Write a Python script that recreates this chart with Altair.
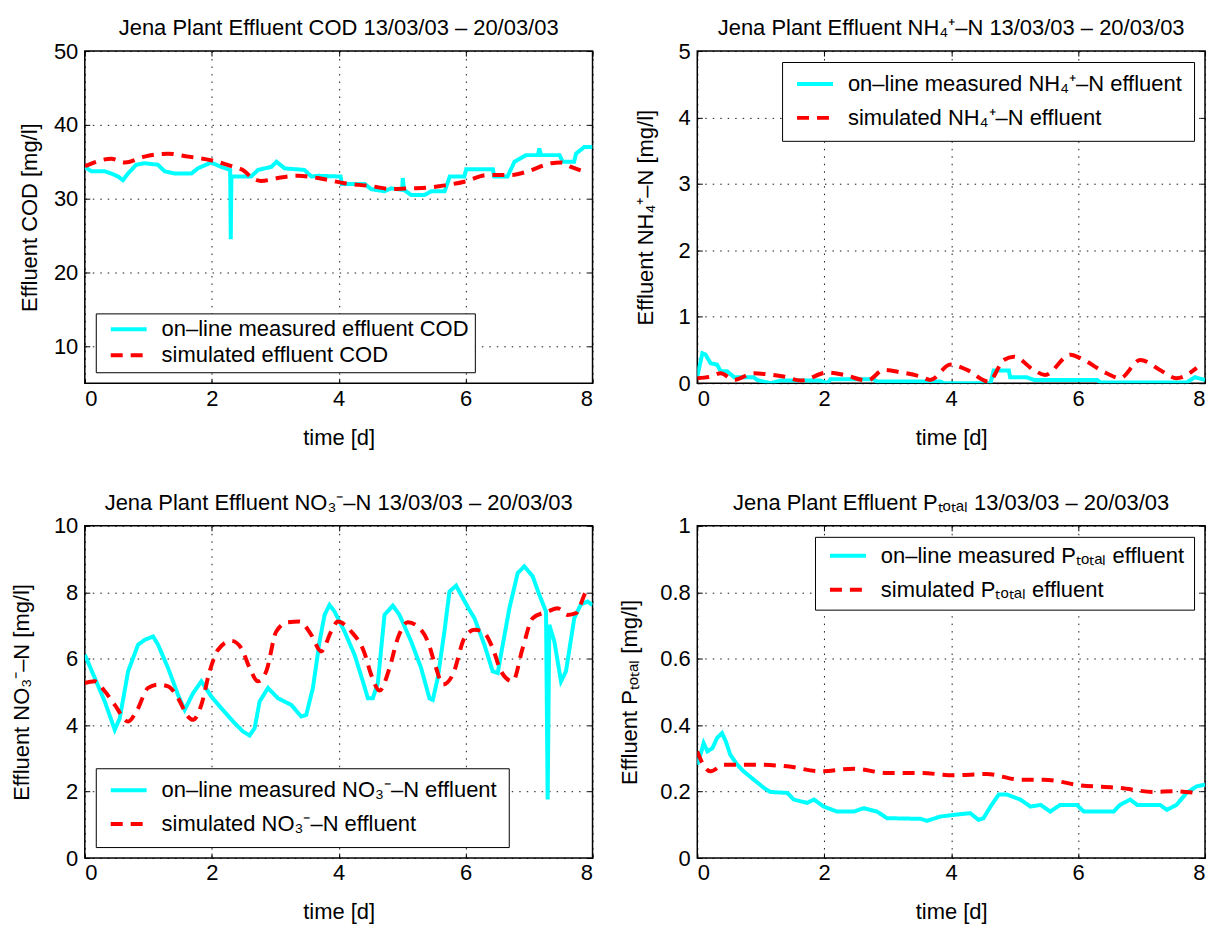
import altair as alt
import pandas as pd

FONT = "Liberation Sans"
FS = 22

# ---------------- COD ----------------
cod_meas_t = [0, 0.105, 0.315, 0.42, 0.525, 0.60, 0.68, 0.81, 0.94, 1.15,
              1.26, 1.42, 1.68, 1.78, 1.99, 2.15, 2.29, 2.30, 2.31, 2.62,
              2.73, 2.94, 3.02, 3.15, 3.46, 3.57, 3.67, 4.03, 4.05, 4.41,
              4.51, 4.72, 4.83, 5.00, 5.01, 5.03, 5.14, 5.35, 5.46, 5.67,
              5.75, 5.98, 6.01, 6.43, 6.45, 6.66, 6.77, 6.95, 7.14, 7.16,
              7.19, 7.48, 7.53, 7.71, 7.74, 7.87, 8.0]
cod_meas_v = [34.3, 33.7, 33.7, 33.4, 33.0, 32.5, 33.4, 34.6, 34.8, 34.6,
              33.7, 33.4, 33.4, 34.1, 34.9, 34.3, 33.9, 24.5, 33.0, 33.0,
              33.9, 34.3, 35.0, 34.1, 33.9, 33.0, 33.1, 33.0, 32.0, 32.0,
              31.3, 31.0, 31.4, 31.2, 32.8, 31.2, 30.5, 30.5, 31.0, 31.0,
              33.0, 33.0, 34.0, 34.0, 33.0, 33.0, 35.0, 35.9, 35.9, 36.8,
              35.9, 35.9, 35.0, 35.0, 36.1, 37.0, 37.0]
cod_sim_t = [0, 0.42, 0.63, 0.94, 1.31, 1.63, 1.99, 2.31, 2.52, 2.62, 2.78,
             3.04, 3.36, 3.67, 4.09, 4.51, 4.83, 5.14, 5.40, 5.67, 5.98, 6.35,
             6.72, 6.98, 7.35, 7.50, 7.66, 7.82]
cod_sim_v = [34.4, 35.4, 34.9, 35.7, 36.1, 35.7, 35.2, 34.4, 33.7, 32.9, 32.4,
             32.8, 33.1, 32.8, 32.1, 31.7, 31.3, 31.4, 31.5, 31.8, 32.3, 33.2,
             33.2, 33.7, 34.8, 34.9, 34.3, 33.8]

# ---------------- NH4 ----------------
nh4_meas_t = [0, 0.08, 0.13, 0.21, 0.31, 0.37, 0.47, 0.58, 0.89, 0.94, 1.15,
              1.31, 1.94, 2.05, 2.10, 2.78, 2.83, 3.83, 3.88, 4.62, 4.67, 4.91,
              4.93, 5.19, 5.30, 6.30, 6.35, 7.71, 7.84, 8.0]
nh4_meas_v = [0.10, 0.45, 0.43, 0.30, 0.28, 0.18, 0.18, 0.09, 0.09, 0.05, 0.0,
              0.04, 0.04, 0.0, 0.06, 0.06, 0.025, 0.025, 0.0, 0.0, 0.19, 0.19,
              0.09, 0.09, 0.05, 0.05, 0.01, 0.01, 0.09, 0.05]
nh4_sim_t = [0, 0.21, 0.37, 0.58, 0.89, 1.10, 1.36, 1.63, 2.05, 2.31, 2.68,
             2.94, 3.20, 3.52, 3.67, 3.99, 4.25, 4.59, 4.83, 4.99, 5.30, 5.48,
             5.88, 6.03, 6.45, 6.66, 6.98, 7.29, 7.55, 7.87]
nh4_sim_v = [0.075, 0.10, 0.15, 0.05, 0.15, 0.135, 0.10, 0.04, 0.16, 0.125,
             0.04, 0.20, 0.165, 0.10, 0.05, 0.28, 0.20, 0.025, 0.35, 0.40, 0.20,
             0.125, 0.43, 0.38, 0.15, 0.075, 0.35, 0.20, 0.075, 0.23]

# ---------------- NO3 ----------------
no3_meas_t = [0, 0.157, 0.315, 0.472, 0.551, 0.682, 0.839, 0.944, 1.076, 1.154,
              1.312, 1.469, 1.574, 1.705, 1.836, 1.994, 2.151, 2.361, 2.492, 2.597,
              2.676, 2.754, 2.886, 3.043, 3.253, 3.410, 3.489, 3.594, 3.699, 3.778,
              3.856, 3.935, 4.092, 4.250, 4.381, 4.460, 4.538, 4.617, 4.722, 4.853,
              4.958, 5.142, 5.299, 5.430, 5.483, 5.561, 5.666, 5.745, 5.850, 5.929,
              6.060, 6.139, 6.296, 6.427, 6.506, 6.585, 6.690, 6.821, 6.925, 7.057,
              7.162, 7.267, 7.293, 7.319, 7.398, 7.503, 7.581, 7.712, 7.817, 7.922,
              8.0]
no3_meas_v = [6.12, 5.42, 4.71, 3.86, 4.21, 5.62, 6.42, 6.57, 6.67, 6.42,
              5.72, 4.91, 4.46, 4.96, 5.32, 4.86, 4.51, 4.06, 3.81, 3.69,
              3.91, 4.71, 5.12, 4.81, 4.61, 4.26, 4.31, 5.12, 6.52, 7.32,
              7.62, 7.42, 6.82, 6.12, 5.32, 4.81, 4.81, 5.27, 7.32, 7.60,
              7.32, 6.52, 5.72, 4.81, 4.76, 5.42, 6.82, 8.02, 8.20, 7.92,
              7.47, 7.22, 6.42, 5.62, 5.57, 6.42, 7.52, 8.58, 8.78, 8.48,
              7.92, 7.42, 1.76, 7.02, 6.52, 5.32, 5.62, 7.22, 7.64, 7.72,
              7.62]
no3_sim_t = [0, 0.157, 0.315, 0.472, 0.682, 0.813, 0.997, 1.154, 1.312, 1.469,
             1.626, 1.705, 1.836, 1.967, 2.099, 2.309, 2.466, 2.597, 2.728, 2.859,
             3.017, 3.200, 3.384, 3.568, 3.725, 3.882, 3.987, 4.197, 4.407, 4.512,
             4.643, 4.801, 4.932, 5.089, 5.247, 5.404, 5.535, 5.640, 5.798, 5.981,
             6.139, 6.270, 6.427, 6.558, 6.742, 6.899, 7.057, 7.293, 7.450, 7.608,
             7.739, 7.870, 7.922]
no3_sim_v = [5.27, 5.32, 5.02, 4.61, 4.11, 4.41, 5.12, 5.22, 5.17, 4.81,
             4.26, 4.16, 4.61, 5.62, 6.27, 6.54, 6.32, 5.72, 5.32, 5.62,
             6.82, 7.10, 7.12, 6.72, 6.22, 6.82, 7.12, 6.82, 6.17, 5.52,
             5.04, 5.72, 6.62, 7.10, 6.97, 6.52, 5.72, 5.22, 5.52, 6.62,
             6.87, 6.82, 6.32, 5.62, 5.32, 6.32, 7.22, 7.42, 7.52, 7.32,
             7.37, 7.92, 8.14]

# ---------------- P total ----------------
p_meas_t = [0, 0.05, 0.10, 0.16, 0.24, 0.31, 0.39, 0.45, 0.52, 0.63,
            0.73, 0.89, 1.05, 1.15, 1.42, 1.52, 1.73, 1.84, 1.99, 2.20,
            2.47, 2.62, 2.83, 2.99, 3.52, 3.62, 3.83, 4.04, 4.30, 4.43,
            4.51, 4.62, 4.75, 4.88, 5.09, 5.25, 5.41, 5.56, 5.72, 5.98,
            6.09, 6.56, 6.66, 6.82, 6.93, 7.29, 7.40, 7.55, 7.71, 7.87,
            8.0]
p_meas_v = [0.281, 0.311, 0.346, 0.321, 0.331, 0.361, 0.376, 0.351, 0.311, 0.281,
            0.261, 0.236, 0.211, 0.199, 0.196, 0.176, 0.166, 0.176, 0.155, 0.140,
            0.140, 0.150, 0.140, 0.120, 0.118, 0.112, 0.125, 0.130, 0.135, 0.115,
            0.120, 0.155, 0.191, 0.191, 0.176, 0.155, 0.160, 0.140, 0.160, 0.160,
            0.140, 0.140, 0.160, 0.176, 0.160, 0.160, 0.145, 0.160, 0.196, 0.216,
            0.221]
p_sim_t = [0, 0.08, 0.21, 0.42, 0.89, 1.42, 1.94, 2.47, 2.99, 3.52, 4.04,
           4.56, 5.09, 5.46, 6.03, 6.66, 7.19, 7.50, 7.87]
p_sim_v = [0.321, 0.286, 0.261, 0.281, 0.281, 0.276, 0.261, 0.269, 0.256, 0.256,
           0.249, 0.253, 0.236, 0.236, 0.219, 0.211, 0.199, 0.201, 0.196]

x_ticks = [0, 2, 4, 6, 8]


def tick_axis(orient, values):
    # short inward-pointing ticks (no labels) as in the original figure
    return alt.Axis(orient=orient, offset=-5, values=values, ticks=True,
                    tickSize=5, tickColor="black", tickWidth=1, labels=False,
                    domain=False, grid=False, title=None)


def panel(mt, mv, st, sv, mlab, slab, title, ytitle, ydom, yticks,
          orient, pad, rowpad, ytitle_pad):
    df = pd.concat([
        pd.DataFrame({"t": mt, "v": mv, "series": mlab}),
        pd.DataFrame({"t": st, "v": sv, "series": slab}),
    ])
    leg = alt.Legend(title=None, orient=orient, offset=11, fillColor="white",
                     strokeColor="black", padding=pad, rowPadding=rowpad,
                     symbolType="stroke", symbolSize=1296, symbolStrokeWidth=4,
                     clipHeight=20,
                     labelFontSize=FS, labelFont=FONT, labelColor="black",
                     labelOffset=13, symbolOffset=max(13 - pad, 0), labelLimit=0)
    xscale = alt.Scale(domain=[0, 8], nice=False)
    yscale = alt.Scale(domain=ydom, nice=False, zero=False)
    colour = alt.Color("series:N",
                       scale=alt.Scale(domain=[mlab, slab],
                                       range=["#00ffff", "#ff0000"]),
                       legend=leg)
    dash = alt.StrokeDash("series:N",
                          scale=alt.Scale(domain=[mlab, slab],
                                          range=[[1, 0], [12, 8]]),
                          legend=leg)
    base = alt.Chart(df)
    meas = base.transform_filter(alt.datum.series == mlab).mark_line(
        strokeWidth=4, clip=True).encode(
        x=alt.X("t:Q", scale=xscale,
                axis=alt.Axis(orient="bottom", values=x_ticks, title="time [d]",
                              ticks=False, grid=True, labelPadding=5,
                              titlePadding=18)),
        y=alt.Y("v:Q", scale=yscale,
                axis=alt.Axis(orient="left", values=yticks, title=ytitle,
                              format="~r", titlePadding=ytitle_pad,
                              ticks=False, grid=True, labelPadding=7)),
        color=colour, strokeDash=dash)
    sim = base.transform_filter(alt.datum.series == slab).mark_line(
        strokeWidth=4, clip=True, interpolate="monotone").encode(
        x=alt.X("t:Q", scale=xscale, axis=tick_axis("top", x_ticks)),
        y=alt.Y("v:Q", scale=yscale, axis=tick_axis("right", yticks)),
        color=colour, strokeDash=dash)
    ticks_bl = base.mark_line(opacity=0).encode(
        x=alt.X("t:Q", scale=xscale, axis=tick_axis("bottom", x_ticks)),
        y=alt.Y("v:Q", scale=yscale, axis=tick_axis("left", yticks)),
        detail="series:N")
    return alt.layer(ticks_bl, meas, sim).properties(
        width=509, height=333,
        title=alt.Title(title, fontSize=FS, font=FONT, fontWeight="normal",
                        color="black", offset=0),
    )


c1 = panel(cod_meas_t, cod_meas_v, cod_sim_t, cod_sim_v,
           "on–line measured effluent COD", "simulated effluent COD",
           "Jena Plant Effluent COD 13/03/03 – 20/03/03",
           "Effluent COD [mg/l]", [5, 50], [10, 20, 30, 40, 50],
           "bottom-left", 6, 4, 12)
c2 = panel(nh4_meas_t, nh4_meas_v, nh4_sim_t, nh4_sim_v,
           "on–line measured NH₄⁺–N effluent", "simulated NH₄⁺–N effluent",
           "Jena Plant Effluent NH₄⁺–N 13/03/03 – 20/03/03",
           "Effluent NH₄⁺–N [mg/l]", [0, 5], [0, 1, 2, 3, 4, 5],
           "top-right", 12, 12, 21)
c3 = panel(no3_meas_t, no3_meas_v, no3_sim_t, no3_sim_v,
           "on–line measured NO₃⁻–N effluent", "simulated NO₃⁻–N effluent",
           "Jena Plant Effluent NO₃⁻–N 13/03/03 – 20/03/03",
           "Effluent NO₃⁻–N [mg/l]", [0, 10], [0, 2, 4, 6, 8, 10],
           "bottom-left", 12, 12, 20)
c4 = panel(p_meas_t, p_meas_v, p_sim_t, p_sim_v,
           "on–line measured Pₜₒₜₐₗ effluent", "simulated Pₜₒₜₐₗ effluent",
           "Jena Plant Effluent Pₜₒₜₐₗ 13/03/03 – 20/03/03",
           "Effluent Pₜₒₜₐₗ [mg/l]", [0, 1], [0, 0.2, 0.4, 0.6, 0.8, 1],
           "top-right", 9, 12, 18)

chart = alt.concat(c1, c2, c3, c4, columns=2,
                   spacing={"row": 143, "column": 105}, bounds="flush").resolve_scale(
    color="independent", strokeDash="independent", x="independent", y="independent"
).resolve_legend(color="independent", strokeDash="independent").properties(
    padding={"left": 1, "top": 7, "right": 5, "bottom": 5},
    background="white",
).configure_view(
    stroke="black", strokeWidth=1.5
).configure_axis(
    labelFont=FONT, titleFont=FONT, labelFontSize=FS, titleFontSize=FS,
    titleFontWeight="normal", labelColor="black", titleColor="black",
    domain=False, gridColor="black", gridDash=[1.5, 6],
    gridOpacity=0.9, gridWidth=1,
)

chart.save("out.html", embed_options={"renderer": "svg", "actions": False})
